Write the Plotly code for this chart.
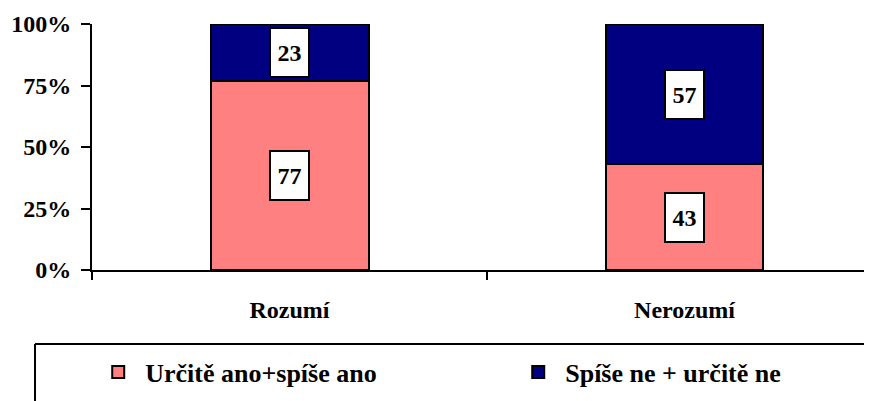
import plotly.graph_objects as go

categories = ["Rozumí", "Nerozumí"]
series_names = ["Určitě ano+spíše ano", "Spíše ne + určitě ne"]
yes_values = [77, 43]
no_values = [23, 57]
y_ticks = [0, 25, 50, 75, 100]
y_tick_labels = ["0%", "25%", "50%", "75%", "100%"]

FONT = "Liberation Serif, Times New Roman, serif"
PINK = "#FF8080"
NAVY = "#000080"

fig = go.Figure()
fig.add_trace(go.Bar(x=categories, y=yes_values, name=f"<b>{series_names[0]}</b>",
                     marker=dict(color=PINK, line=dict(color="black", width=2))))
fig.add_trace(go.Bar(x=categories, y=no_values, name=f"<b>{series_names[1]}</b>",
                     marker=dict(color=NAVY, line=dict(color="black", width=2))))

annotations = []
for cat, a, b in zip(categories, yes_values, no_values):
    for val, mid in ((a, a / 2), (b, a + b / 2)):
        annotations.append(dict(
            x=cat, y=mid, xref="x", yref="y", text=f"<b>{val}</b>", showarrow=False,
            font=dict(family=FONT, size=24, color="black"),
            bgcolor="white", bordercolor="black", borderwidth=2, borderpad=0,
            width=37, height=47, valign="middle"))

# legend frame: only the top and left edges are inside the picture
frame_line = dict(color="black", width=2)
legend_frame = [
    dict(type="line", xref="paper", yref="paper", x0=-0.0731, x1=1.3,
         y0=-0.3008, y1=-0.3008, line=frame_line),
    dict(type="line", xref="paper", yref="paper", x0=-0.0731, x1=-0.0731,
         y0=-0.3008, y1=-0.9, line=frame_line),
]

fig.update_layout(
    width=864, height=393,
    margin=dict(l=84, r=0, t=16, b=131, autoexpand=False),
    paper_bgcolor="white", plot_bgcolor="white",
    barmode="stack", bargap=0.6,
    font=dict(family=FONT, size=24, color="black"),
    showlegend=True,
    legend=dict(orientation="h", x=-0.001, xanchor="left", y=-0.4147, yanchor="middle",
                font=dict(family=FONT, size=26, color="black"),
                entrywidth=361, entrywidthmode="pixels",
                itemwidth=44, traceorder="normal", bgcolor="rgba(0,0,0,0)"),
    annotations=annotations,
    shapes=legend_frame,
)
fig.update_xaxes(
    range=[-0.5, 1.4747], showline=True, linecolor="black", linewidth=2,
    ticks="outside", tickson="boundaries", ticklen=8, tickwidth=2, tickcolor="black",
    tickfont=dict(family=FONT, size=24, color="black"), ticklabelstandoff=17,
    showgrid=False, zeroline=False,
    tickvals=categories, ticktext=[f"<b>{c}</b>" for c in categories],
)
fig.update_yaxes(
    range=[0, 100], tickvals=y_ticks, ticktext=[f"<b>{t}</b>" for t in y_tick_labels],
    showline=True, linecolor="black", linewidth=2,
    ticks="outside", ticklen=9, tickwidth=2, tickcolor="black",
    tickfont=dict(family=FONT, size=24, color="black"), ticklabelstandoff=5,
    showgrid=False, zeroline=False,
)
fig.write_html("out.html")
